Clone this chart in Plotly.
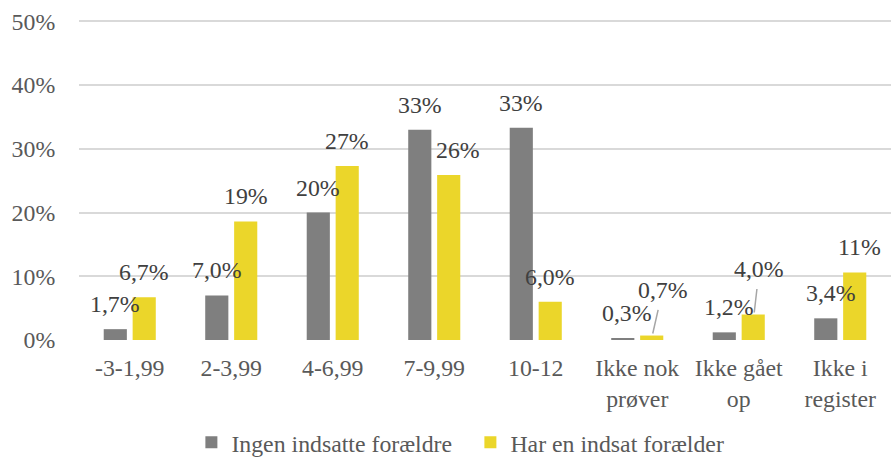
import plotly.graph_objects as go

categories = ["-3-1,99", "2-3,99", "4-6,99", "7-9,99", "10-12",
              "Ikke nok<br>prøver", "Ikke gået<br>op", "Ikke i<br>register"]
series_names = ["Ingen indsatte forældre", "Har en indsat forælder"]
ingen = [1.7, 7.0, 20.0, 33.0, 33.3, 0.3, 1.2, 3.4]
har = [6.7, 18.6, 27.3, 25.9, 6.0, 0.7, 4.0, 10.6]
ingen_labels = ["1,7%", "7,0%", "20%", "33%", "33%", "0,3%", "1,2%", "3,4%"]
har_labels = ["6,7%", "19%", "27%", "26%", "6,0%", "0,7%", "4,0%", "11%"]
y_ticks = [0, 10, 20, 30, 40, 50]
y_ticklabels = ["0%", "10%", "20%", "30%", "40%", "50%"]

GRAY = "#7F7F7F"
YELLOW = "#EBD62A"
FONT = "Liberation Serif"
FS = 23.8

# label style offsets (pixels): extra x shift per bar, and leader lines
ingen_dx = [0, 0, 0, 0, 0, 4, 5, 5]
har_dx = [0, 0, 0, 9, 0, 10, 5, 5]
har_leader = [False, False, False, False, False, True, True, False]

fig = go.Figure()
fig.add_trace(go.Bar(x=categories, y=ingen, name=series_names[0],
                     marker_color=GRAY, marker_line_width=0))
fig.add_trace(go.Bar(x=categories, y=har, name=series_names[1],
                     marker_color=YELLOW, marker_line_width=0))

half = 14.5
lab_font = dict(family=FONT, size=FS, color="#404040")
for i, c in enumerate(categories):
    fig.add_annotation(x=c, y=ingen[i], text=ingen_labels[i], showarrow=False,
                       xshift=-half + ingen_dx[i], yshift=25, font=lab_font)
    if har_leader[i]:
        fig.add_annotation(x=c, y=har[i], text=har_labels[i], showarrow=True,
                           arrowhead=0, arrowwidth=1.5, arrowcolor="#A6A6A6",
                           ax=har_dx[i], ay=-44, xshift=half + 1, yshift=2,
                           standoff=0, startstandoff=6, font=lab_font)
    else:
        fig.add_annotation(x=c, y=har[i], text=har_labels[i], showarrow=False,
                           xshift=half + har_dx[i], yshift=25, font=lab_font)

fig.update_layout(
    width=891, height=457,
    margin=dict(l=79, r=0, t=20, b=117, autoexpand=False),
    paper_bgcolor="white", plot_bgcolor="white",
    barmode="group", bargap=0.43, bargroupgap=0.2,
    font=dict(family=FONT, size=FS, color="#595959"),
    showlegend=True,
    legend=dict(orientation="h", x=0.482, xanchor="center", y=-0.32, yanchor="middle",
                font=dict(family=FONT, size=FS, color="#595959"),
                itemwidth=30, tracegroupgap=0, entrywidth=234, entrywidthmode="pixels"),
)
fig.update_xaxes(type="category", showgrid=False, showline=False, zeroline=False,
                 automargin=False,
                 ticks="outside", ticklen=6, tickcolor="rgba(0,0,0,0)",
                 tickfont=dict(family=FONT, size=FS, color="#595959"))
fig.update_yaxes(range=[0, 50.2], tickvals=y_ticks, ticktext=y_ticklabels,
                 automargin=False,
                 showgrid=True, gridcolor="#D9D9D9", gridwidth=1.5,
                 zeroline=False, showline=False,
                 ticks="outside", ticklen=18, tickcolor="rgba(0,0,0,0)",
                 tickfont=dict(family=FONT, size=FS, color="#595959"))

fig.write_html("out.html", config={"displayModeBar": False},
               post_script="document.body.style.margin='0';")
